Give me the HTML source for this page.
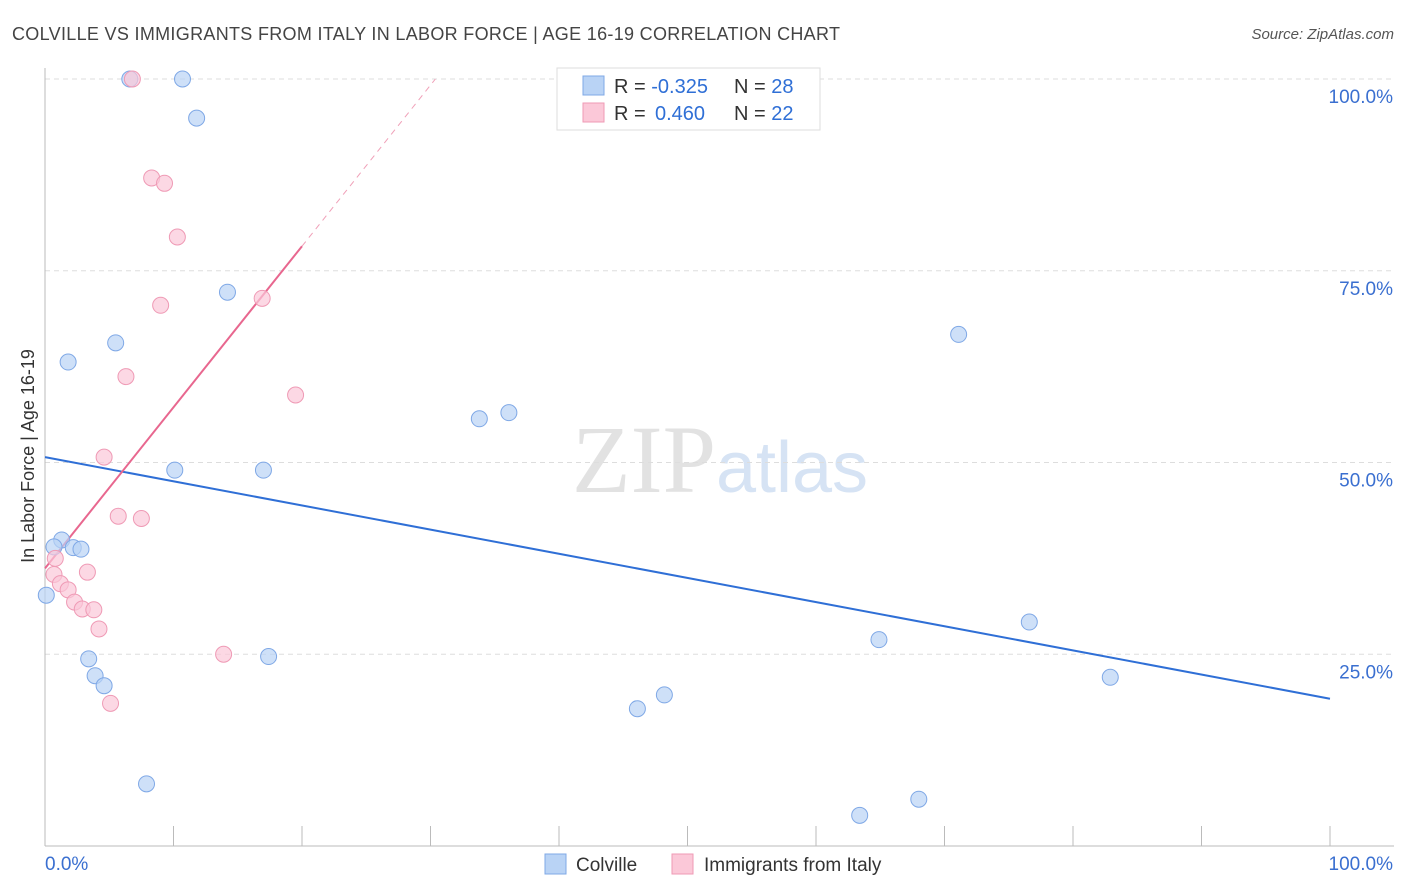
<!DOCTYPE html>
<html><head><meta charset="utf-8"><style>
body{margin:0;background:#fff;font-family:"Liberation Sans",sans-serif;}
svg{display:block}
</style></head><body>
<svg id="chart" width="1406" height="892" xmlns="http://www.w3.org/2000/svg">
<text x="12" y="40" font-size="18" fill="#444" textLength="828">COLVILLE VS IMMIGRANTS FROM ITALY IN LABOR FORCE | AGE 16-19 CORRELATION CHART</text>
<text x="1394" y="39" font-size="15" fill="#555" font-style="italic" text-anchor="end">Source: ZipAtlas.com</text>
<text x="0" y="0" font-size="18" fill="#333" text-anchor="middle" transform="translate(34,456) rotate(-90)">In Labor Force | Age 16-19</text>
<text x="720" y="492" font-size="96" text-anchor="middle" font-family="Liberation Serif,serif"><tspan fill="#e2e2e2">ZIP</tspan><tspan fill="#d6e3f4" font-family="Liberation Sans,sans-serif" font-size="72">atlas</tspan></text>
<g id="grid"></g><g id="lines"></g><g id="pts"></g>
<g>
<rect x="557" y="68" width="263" height="62" fill="#fff" stroke="#ddd"/>
<rect x="583" y="76" width="21" height="19" fill="#b9d3f5" stroke="#7fa8e6"/>
<rect x="583" y="103" width="21" height="19" fill="#fbc8d8" stroke="#ef9ab5"/>
<text x="614" y="93" font-size="20" fill="#333">R = <tspan fill="#2f6fd6">-0.325</tspan><tspan x="734">N = </tspan><tspan fill="#2f6fd6">28</tspan></text>
<text x="614" y="120" font-size="20" fill="#333">R = <tspan fill="#2f6fd6" x="655">0.460</tspan><tspan x="734">N = </tspan><tspan fill="#2f6fd6">22</tspan></text>
</g>
<g>
<rect x="545" y="854" width="21" height="20" fill="#b9d3f5" stroke="#7fa8e6"/>
<text x="576" y="871" font-size="19" fill="#333">Colville</text>
<rect x="672" y="854" width="21" height="20" fill="#fbc8d8" stroke="#ef9ab5"/>
<text x="704" y="871" font-size="19" fill="#333">Immigrants from Italy</text>
</g>
</svg>
<script>
const blueX=[6.6,10.7,11.8,14.2,5.5,1.8,33.8,36.1,10.1,17.0,71.1,1.3,0.7,2.2,2.8,0.1,3.4,3.9,4.6,17.4,64.9,76.6,82.9,46.1,48.2,7.9,63.4,68.0];
const blueY=[100,100,94.9,72.2,65.6,63.1,55.7,56.5,49.0,49.0,66.7,39.9,39.0,38.9,38.7,32.7,24.4,22.2,20.9,24.7,26.9,29.2,22.0,17.9,19.7,8.1,4.0,6.1];
const pinkX=[6.8,8.3,9.3,10.3,9.0,16.9,6.3,19.5,4.6,5.7,7.5,0.8,0.7,3.3,1.2,1.8,2.3,2.9,3.8,4.2,5.1,13.9];
const pinkY=[100,87.1,86.4,79.4,70.5,71.4,61.2,58.8,50.7,43.0,42.7,37.5,35.4,35.7,34.2,33.4,31.8,30.9,30.8,28.3,18.6,25.0];
const blueFit=[50.7,-0.315];
const pinkFit=[36.2,2.1];
const yTicks=[25,50,75,100];
const yTickLabels=["25.0%","50.0%","75.0%","100.0%"];
const X0=45,X1=1330,Y0=846,Y100=79;
const sx=v=>X0+(X1-X0)*v/100, sy=v=>Y0-(Y0-Y100)*v/100;
const NS="http://www.w3.org/2000/svg";
function mk(t,a,p){const e=document.createElementNS(NS,t);for(const k in a)e.setAttribute(k,a[k]);p.appendChild(e);return e;}
const g=document.getElementById('grid');
yTicks.forEach((v,i)=>{
 const l=mk('line',{x1:X0,x2:1394,y1:sy(v),y2:sy(v),stroke:'#ddd','stroke-dasharray':'5,4'},g);
 
 
 const t=mk('text',{x:1393,y:sy(v)+24,'font-size':19,fill:'#3a6fd0','text-anchor':'end'},g);
 t.textContent=yTickLabels[i];
 
 
});
mk('line',{x1:X0,x2:X0,y1:68,y2:Y0,stroke:'#bbb'},g);
mk('line',{x1:X0,x2:1394,y1:Y0,y2:Y0,stroke:'#bbb'},g);
for(let i=0;i<=10;i++){mk('line',{x1:sx(i*10),x2:sx(i*10),y1:826,y2:Y0,stroke:'#bbb'},g);}
let t=mk('text',{x:45,y:870,'font-size':19,fill:'#3a6fd0'},g);t.textContent='0.0%';

t=mk('text',{x:1393,y:870,'font-size':19,fill:'#3a6fd0','text-anchor':'end'},g);t.textContent='100.0%';

const L=document.getElementById('lines');
let bl=mk('line',{x1:sx(0),y1:sy(blueFit[0]),x2:sx(100),y2:sy(blueFit[0]+blueFit[1]*100),stroke:'#2f6fd6','stroke-width':2},L);

const xe=20, xd=(100-pinkFit[0])/pinkFit[1];
let pl=mk('line',{x1:sx(0),y1:sy(pinkFit[0]),x2:sx(xe),y2:sy(pinkFit[0]+pinkFit[1]*xe),stroke:'#e8678f','stroke-width':2},L);

let pd=mk('line',{x1:sx(xe),y1:sy(pinkFit[0]+pinkFit[1]*xe),x2:sx(xd),y2:sy(100),stroke:'#f0a0b8','stroke-width':1,'stroke-dasharray':'6,5'},L);

const P=document.getElementById('pts');
blueX.forEach((x,i)=>{const c=mk('circle',{cx:sx(x),cy:sy(blueY[i]),r:8,fill:'#b9d3f5','fill-opacity':0.7,stroke:'#7fa8e6'},P);
 });
pinkX.forEach((x,i)=>{const c=mk('circle',{cx:sx(x),cy:sy(pinkY[i]),r:8,fill:'#fbc8d8','fill-opacity':0.7,stroke:'#ef9ab5'},P);
 });
</script>
</body></html>
